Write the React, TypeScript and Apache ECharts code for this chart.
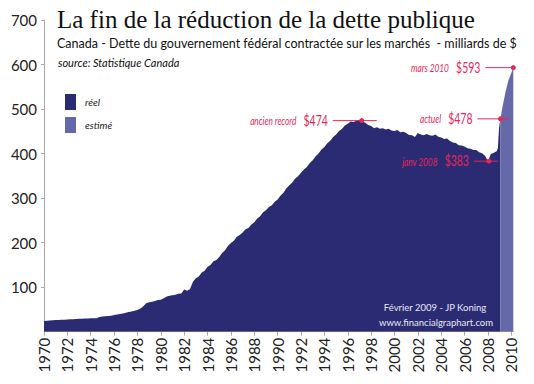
import React, { useEffect, useRef } from "react";
import * as echarts from "echarts";

// ---------- data ----------
const yearTicks = [1970, 1972, 1974, 1976, 1978, 1980, 1982, 1984, 1986, 1988, 1990, 1992, 1994, 1996, 1998, 2000, 2002, 2004, 2006, 2008, 2010];
const valueTicks = [100, 200, 300, 400, 500, 600, 700];

// quarterly readings (Q1..Q4) starting 1970
const realStartYear = 1970;
const realDebt = [
  24, 24.5, 25, 25.5, // 1970
  26, 26.5, 27, 27, // 1971
  27.5, 28, 28, 28.5, // 1972
  29, 29, 29.5, 29.5, // 1973
  30, 30, 30, 33, // 1974
  34, 34.5, 35, 36, // 1975
  37.5, 38.5, 40, 41, // 1976
  42.5, 44, 45.5, 47, // 1977
  48.5, 52, 57, 64, // 1978
  66, 67, 69, 71, // 1979
  72, 75, 79, 81, // 1980
  82, 83, 85, 86, // 1981
  95, 92, 96, 112, // 1982
  120, 124, 133, 137, // 1983
  146, 150, 158, 161, // 1984
  168, 177, 183, 193, // 1985
  199, 204, 213, 217, // 1986
  223, 230, 233, 241, // 1987
  246, 254, 259, 268, // 1988
  273, 280, 284, 292, // 1989
  297, 306, 312, 322, // 1990
  329, 335, 344, 349, // 1991
  357, 364, 370, 379, // 1992
  385, 394, 400, 409, // 1993
  415, 423, 429, 437, // 1994
  443, 451, 455, 463, // 1995
  467, 472, 471, 474, // 1996
  476, 472, 469, 464, // 1997
  462, 457, 459, 456, // 1998
  457, 454, 456, 452, // 1999
  451, 453, 448, 449, // 2000
  446, 442, 441, 437, // 2001
  446, 443, 441, 444, // 2002
  441, 440, 443, 438, // 2003
  436, 433, 434, 428, // 2004
  425, 424, 419, 418, // 2005
  416, 412, 411, 408, // 2006
  408, 403, 401, 395, // 2007
  383, 399, 402, 405, // 2008
];
const realTailYears = [2008.85, 2008.95, 2009.07];
const realTailDebt = [412, 458, 478];

const estYears = [2009.07, 2009.25, 2009.5, 2009.75, 2010.17];
const estDebt = [478, 506, 538, 564, 593];

const annoLabels = ["mars 2010", "ancien record", "actuel", "janv 2008"];
const annoYears = [2010.17, 1997.2, 2009.07, 2008.08];
const annoValues = [593, 474, 478, 383];

const legendNames = ["réel", "estimé"];

// ---------- style ----------
const NAVY = "#2a2b72";
const EST = "#6669a9";
const RED = "#e8245c";
const SANS = "Lato, 'Noto Sans', sans-serif";
// line extents around each dot, in px: [left, right]
const annoLineSpan = [
  [-28, 0],
  [-29, 15],
  [-23, 9],
  [-15, 9],
];

export default function App() {
  const ref = useRef<HTMLDivElement>(null);

  useEffect(() => {
    if (!ref.current) return;
    const chart = echarts.init(ref.current, null, { renderer: "svg" });

    const realData: number[][] = realDebt.map((v, i) => [realStartYear + i * 0.25, v]);
    realTailYears.forEach((y, i) => realData.push([y, realTailDebt[i]]));
    const estData = estYears.map((y, i) => [y, estDebt[i]]);

    chart.setOption({
      animation: false,
      backgroundColor: "#ffffff",
      grid: { left: 44, right: 20.7, top: 20, bottom: 52.3, containLabel: false },
      legend: {
        data: legendNames,
        orient: "vertical",
        left: 60,
        top: 89,
        itemWidth: 11,
        itemHeight: 16,
        itemGap: 7,
        icon: "rect",
        textStyle: { fontFamily: SANS, fontStyle: "italic", fontSize: 10, color: "#222", padding: [0, 0, 0, 4] },
      },
      xAxis: {
        type: "value",
        min: 1970,
        max: 2010.17,
        splitLine: { show: false },
        axisLine: { show: true, lineStyle: { color: "#aaaaaa", width: 1 } },
        axisTick: { show: true, length: 4, lineStyle: { color: "#aaaaaa" }, customValues: yearTicks },
        axisLabel: {
          customValues: yearTicks,
          rotate: 90,
          margin: 6,
          fontFamily: SANS,
          fontSize: 15,
          color: "#222",
          formatter: (v: number) => String(v),
        },
      },
      yAxis: {
        type: "value",
        min: 0,
        max: 700,
        interval: 100,
        splitLine: { show: false },
        axisLine: { show: true, lineStyle: { color: "#aaaaaa", width: 1 } },
        axisTick: { show: true, length: 3, lineStyle: { color: "#aaaaaa" }, customValues: valueTicks },
        axisLabel: {
          customValues: valueTicks,
          margin: 7,
          fontFamily: SANS,
          fontSize: 15,
          color: "#222",
        },
      },
      series: [
        {
          name: legendNames[0],
          type: "line",
          data: realData,
          symbol: "none",
          color: NAVY,
          lineStyle: { width: 0, color: NAVY },
          areaStyle: { color: NAVY, opacity: 1 },
          z: 2,
        },
        {
          name: legendNames[1],
          type: "line",
          data: estData,
          symbol: "none",
          color: EST,
          lineStyle: { width: 0, color: EST },
          areaStyle: { color: EST, opacity: 1 },
          z: 2,
        },
      ],
    });

    const graphics: any[] = [
      {
        type: "text",
        left: 57,
        top: 7,
        style: { text: "La fin de la réduction de la dette publique", fontFamily: "'Liberation Serif', serif", fontSize: 25, fill: "#111" },
      },
      {
        type: "text",
        left: 57,
        top: 37,
        style: { text: "Canada - Dette du gouvernement fédéral contractée sur les marchés  - milliards de $", fontFamily: SANS, fontSize: 12.5, fill: "#111" },
      },
      {
        type: "text",
        left: 58,
        top: 57,
        style: { text: "source: Statistique Canada", fontFamily: SANS, fontStyle: "italic", fontSize: 11, fill: "#111" },
      },
      {
        type: "text",
        x: 435,
        y: 307,
        style: { text: "Février 2009 - JP Koning", fontFamily: SANS, fontSize: 9.5, fill: "#e8e8f2", align: "center", verticalAlign: "middle" },
        z: 10,
      },
      {
        type: "text",
        x: 436,
        y: 322,
        style: { text: "www.financialgraphart.com", fontFamily: SANS, fontSize: 9.5, fill: "#e8e8f2", align: "center", verticalAlign: "middle" },
        z: 10,
      },
    ];

    annoLabels.forEach((label, i) => {
      const p = chart.convertToPixel({ gridIndex: 0 }, [annoYears[i], annoValues[i]]) as number[];
      const [l, r] = annoLineSpan[i];
      graphics.push({
        type: "line",
        shape: { x1: p[0] + l, y1: p[1], x2: p[0] + r, y2: p[1] },
        style: { stroke: RED, lineWidth: 1 },
        z: 20,
      });
      graphics.push({
        type: "circle",
        shape: { cx: p[0], cy: p[1], r: 2.5 },
        style: { fill: RED },
        z: 21,
      });
      graphics.push({
        type: "text",
        x: p[0] + l - 5,
        y: p[1],
        scaleX: 0.72,
        style: {
          text: `{a|${label}}   {b|$${annoValues[i]}}`,
          align: "right",
          verticalAlign: "middle",
          rich: {
            a: { fontFamily: SANS, fontStyle: "italic", fontSize: 11.5, fill: RED, color: RED },
            b: { fontFamily: SANS, fontSize: 14.5, fill: RED, color: RED },
          },
        },
        z: 20,
      });
    });

    chart.setOption({ graphic: graphics });

    return () => chart.dispose();
  }, []);

  return <div ref={ref} style={{ position: "fixed", left: 0, top: 0, width: 534, height: 384 }} />;
}
